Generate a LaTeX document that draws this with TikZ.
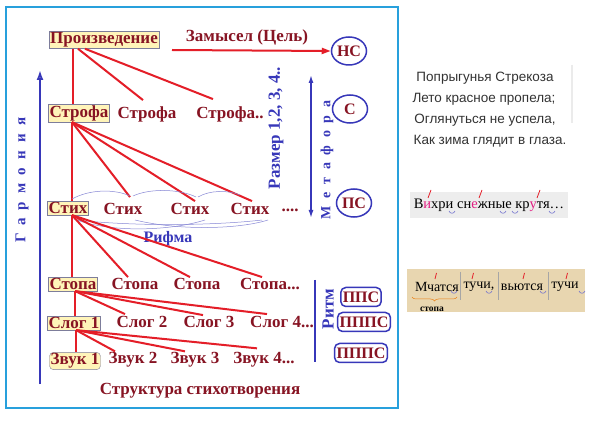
\documentclass[tikz,border=0pt]{standalone}
\usepackage{fontspec}
\setmainfont{Liberation Serif}
\setsansfont{Liberation Sans}
\newfontfamily\spacedfont[LetterSpace=55]{Liberation Serif}
\usetikzlibrary{arrows.meta,shapes.geometric,decorations.pathreplacing,calc}
\definecolor{txtred}{RGB}{135,20,35}
\definecolor{linered}{RGB}{228,30,40}
\definecolor{darkblue}{RGB}{55,55,185}
\definecolor{framecyan}{RGB}{40,160,220}
\definecolor{boxfill}{RGB}{255,244,185}
\definecolor{boxgray}{RGB}{125,125,155}
\definecolor{parch}{RGB}{232,214,176}
\definecolor{pinkv}{RGB}{225,30,130}
\begin{document}
\begin{tikzpicture}[x=1pt,y=-1pt,
  lbl/.style={font=\bfseries\fontsize{17}{18}\selectfont,text=txtred,inner sep=1pt},
  hbox/.style={lbl,draw=boxgray,fill=boxfill,inner sep=1.2pt},
  blbl/.style={font=\bfseries\fontsize{17}{18}\selectfont,text=darkblue,inner sep=0pt},
  rline/.style={draw=linered,line width=2pt},
  rhyme/.style={draw=darkblue!60,line width=0.5pt},
  ring/.style={ellipse,draw=darkblue,line width=1.5pt,text=txtred,
    font=\bfseries\fontsize{16}{17}\selectfont,minimum width=35pt,minimum height=28pt,inner sep=0pt},
  pill/.style={rounded corners=5pt,draw=darkblue,line width=1.5pt,text=txtred,
    font=\bfseries\fontsize{16}{17}\selectfont,inner xsep=2pt,inner ysep=0.5pt,minimum height=19pt},
  poem/.style={font=\sffamily\fontsize{13.5}{15}\selectfont,text=black!80},
  word/.style={font=\fontsize{14}{15}\selectfont,inner sep=0pt},
  stress/.style={draw=linered,line width=0.8pt},
  breve/.style={draw=darkblue!70,line width=0.6pt}]
\useasboundingbox (0,0) rectangle (595,422);
\fill[white] (0,0) rectangle (595,422);
\draw[framecyan,line width=2.6pt] (6,7) rectangle (398,408);

\node[hbox] (prz) at (104,40) {Произведение};
\node[lbl] (zam) at (247,37) {Замысел (Цель)};
\node[ring] (ns) at (349,51) {НС};
\coordinate (zs) at (172,50);
\draw[rline,-{Triangle[length=9pt,width=6pt]}] (zs) -- (ns.west);

\node[hbox] (sf1) at (79,113) {Строфа};
\node[lbl] (sf2) at (147,114) {Строфа};
\node[lbl] (sf3) at (230,114) {Строфа..};
\coordinate (p0) at ([xshift=-31pt]prz.south);
\draw[rline] (p0) -- (p0 |- sf1.north);
\draw[rline] ([xshift=5pt]p0) -- ([xshift=-4pt,yshift=5pt]sf2.north);
\draw[rline] ([xshift=12pt]p0) -- ([xshift=-17pt,yshift=6pt]sf3.north);

\node[hbox] (st1) at (68,208) {Стих};
\node[lbl] (st2) at (123,209) {Стих};
\node[lbl] (st3) at (190,209) {Стих};
\node[lbl] (st4) at (250,209) {Стих};
\node[lbl] (st5) at (290,210) {....};
\coordinate (s0) at ([xshift=-7pt]sf1.south);
\draw[rline] (s0) -- (s0 |- st1.north);
\draw[rline] (s0) -- ([xshift=7pt,yshift=5pt]st2.north);
\draw[rline] (s0) -- ([xshift=5pt,yshift=1pt]st3.north);
\draw[rline] (s0) -- ([xshift=2pt,yshift=1pt]st4.north);

\draw[rhyme] (72,199) .. controls (90,189) and (115,189) .. (130,196);
\draw[rhyme] (133,196) .. controls (150,188) and (180,189) .. (196,197);
\draw[rhyme] (198,197) .. controls (210,190) and (228,190) .. (240,195);
\draw[rhyme] (74,219) .. controls (110,233) and (170,231) .. (205,220);
\draw[rhyme] (135,220) .. controls (180,231) and (240,229) .. (268,220);
\draw[rhyme] (76,220) .. controls (140,227) and (220,225) .. (262,220);
\node[blbl,font=\bfseries\fontsize{16}{17}\selectfont] (rif) at (168,239) {Рифма};

\node[hbox] (sp1) at (73,284) {Стопа};
\node[lbl] (sp2) at (135,284) {Стопа};
\node[lbl] (sp3) at (197,284) {Стопа};
\node[lbl] (sp4) at (270,284) {Стопа...};
\coordinate (t0) at ([xshift=4pt]st1.south);
\draw[rline] (t0) -- (t0 |- sp1.north);
\draw[rline] (t0) -- ([xshift=-7pt]sp2.north);
\draw[rline] (t0) -- ([xshift=-7pt]sp3.north);
\draw[rline] (t0) -- ([xshift=-8pt]sp4.north);

\node[hbox] (sl1) at (74,323) {Слог 1};
\node[lbl] (sl2) at (142,322) {Слог 2};
\node[lbl] (sl3) at (209,322) {Слог 3};
\node[lbl] (sl4) at (282,322) {Слог 4...};
\coordinate (u0) at ([xshift=2pt]sp1.south);
\draw[rline] (u0) -- (u0 |- sl1.north);
\draw[rline] (u0) -- ([xshift=-17pt,yshift=1pt]sl2.north);
\draw[rline] (u0) -- ([xshift=-6pt]sl3.north);
\draw[rline] (u0) -- ([xshift=-15pt,yshift=1pt]sl4.north);

\node[hbox,rounded corners=4pt] (zv1) at (75,361) {Звук 1};
\node[lbl] (zv2) at (133,360) {Звук 2};
\node[lbl] (zv3) at (195,360) {Звук 3};
\node[lbl] (zv4) at (264,360) {Звук 4...};
\coordinate (v0) at ([xshift=2pt]sl1.south);
\draw[rline] (v0) -- (v0 |- zv1.north);
\draw[rline] (v0) -- ([xshift=-18pt]zv2.north);
\draw[rline] (v0) -- ([xshift=-10pt]zv3.north);
\draw[rline] (v0) -- ([xshift=-7pt,yshift=3pt]zv4.north);

\node[lbl] (cap) at (200,391) {Структура стихотворения};

\coordinate (g0) at (40,384);
\coordinate (g1) at (40,70);
\draw[darkblue,line width=1.8pt,-{Latex[open,length=10pt,width=7pt]}] (g0) -- (g1);
\node[blbl,rotate=90,font=\spacedfont\bfseries\fontsize{15}{16}\selectfont] (gar) at (22,180) {Гармония};

\node[blbl,rotate=90] (raz) at (276,128) {Размер 1,2, 3, 4..};
\coordinate (m0) at (311,75);
\coordinate (m1) at (311,218);
\draw[darkblue,line width=1.5pt,{Latex[length=8pt,width=5pt]}-{Latex[length=8pt,width=5pt]}] (m0) -- (m1);
\node[blbl,rotate=90,font=\spacedfont\bfseries\fontsize{14}{15}\selectfont] (met) at (327,160) {Метафора};
\node[ring] (s) at (350,109) {С};
\node[ring] (ps) at (354,203) {ПС};

\draw[darkblue,line width=1.8pt] (315,280) -- (315,362);
\node[blbl,rotate=90] (rit) at (328,309) {Ритм};
\node[pill] (pps) at (361,297) {ППС};
\node[pill] (ppps) at (364,322) {ПППС};
\node[pill] (ppps2) at (361,353) {ПППС};

\node[poem] (pm1) at (485,78) {Попрыгунья Стрекоза};
\node[poem] (pm2) at (484,99) {Лето красное пропела;};
\node[poem] (pm3) at (485,120) {Оглянуться не успела,};
\node[poem] (pm4) at (490,141) {Как зима глядит в глаза.};
\draw[black!8,line width=1.5pt] (572,65) -- (572,123);

\node[fill=black!7,minimum width=158pt,minimum height=26pt,inner sep=0pt] (vx) at (489,205) {};
\node[font=\fontsize{14.5}{15}\selectfont,inner sep=0pt] (vxt) at (489,205) {В\textcolor{pinkv}{и}хри сн\textcolor{pinkv}{е}жные кр\textcolor{pinkv}{у}тя…};
\draw[stress] (428,198) -- (431,190);
\draw[stress] (479,198) -- (482,190);
\draw[stress] (537,198) -- (540,190);
\foreach \bx in {449,500,512,549}
  \draw[breve] (\bx,211) .. controls ($(\bx,211)+(1,3)$) and ($(\bx,211)+(5,3)$) .. ($(\bx,211)+(6,0)$);

\node[fill=parch,minimum width=178pt,minimum height=43pt,inner sep=0pt] (mc) at (496,291) {};
\node[word] (w1) at (437,287) {Мчатся};
\node[word] (w2) at (479,287) {тучи,};
\node[word] (w3) at (522,287) {вьются};
\node[word] (w4) at (565,287) {тучи};
\foreach \sx in {460,498,548}
  \draw[black!35,line width=0.5pt] (\sx,272) -- (\sx,300);
\foreach \sx in {435,472,523,566}
  \draw[stress] (\sx,279) -- (\sx+1.5,273);
\foreach \bx in {451,486,540,579}
  \draw[breve] (\bx,291) .. controls ($(\bx,291)+(1,3)$) and ($(\bx,291)+(5,3)$) .. ($(\bx,291)+(6,0)$);
\draw[orange!70!brown,line width=0.5pt,decorate,decoration={brace,mirror,amplitude=4pt}] (412,297) -- (457,297);
\node[font=\bfseries\fontsize{9.5}{10}\selectfont,inner sep=0pt] (sto) at (432,309) {стопа};
\end{tikzpicture}
\end{document}
